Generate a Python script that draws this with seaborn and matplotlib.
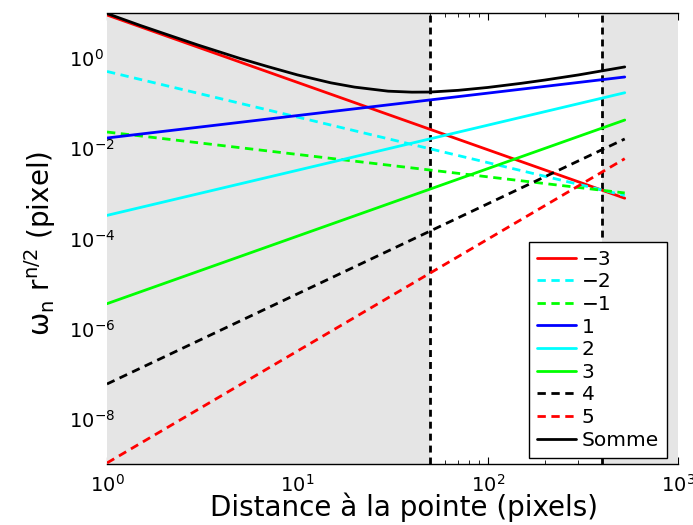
import matplotlib
matplotlib.use("Agg")
import matplotlib.pyplot as plt
import seaborn as sns

# distance range covered by the mode curves (pixels)
r_ends = [1, 525]

# value of each mode at r = 1 and at r = 525
mode_m3 = [8.9, 7.8e-4]
mode_m2 = [0.50, 9.0e-4]
mode_m1 = [0.0228, 1.02e-3]
mode_p1 = [0.0168, 0.377]
mode_p2 = [3.25e-4, 0.169]
mode_p3 = [3.6e-6, 0.042]
mode_p4 = [6.0e-8, 0.016]
mode_p5 = [1.07e-9, 5.85e-3]

# the "Somme" curve, read at a few distances
r_somme = [1, 1.5, 2, 3, 5, 7, 10, 15, 20, 30, 40, 50, 70, 100, 150, 200, 300, 525]
somme = [9.6, 5.2, 3.44, 1.93, 0.97, 0.64, 0.42, 0.28, 0.225, 0.183, 0.174,
         0.175, 0.191, 0.221, 0.273, 0.323, 0.419, 0.63]

mode_labels = ["\u22123", "\u22122", "\u22121", "1", "2", "3", "4", "5"]
mode_values = [mode_m3, mode_m2, mode_m1, mode_p1, mode_p2, mode_p3, mode_p4, mode_p5]
mode_colors = ["#ff0000", "#00ffff", "#00ff00", "#0000ff", "#00ffff", "#00ff00", "#000000", "#ff0000"]
mode_dashed = [False, True, True, False, False, False, True, True]

# window used for the fit (white zone)
fit_window = [50, 400]

sns.set_style("white")
plt.rcParams['font.family'] = ['DejaVu Sans']
plt.rcParams['text.color'] = 'k'
plt.rcParams['axes.labelcolor'] = 'k'
plt.rcParams['xtick.color'] = 'k'
plt.rcParams['ytick.color'] = 'k'

fig = plt.figure(figsize=(6.93, 5.25), dpi=100)
ax = fig.add_axes([107 / 693, 1 - 464.3 / 525, 571 / 693, 451.6 / 525])
ax.set_xscale('log')
ax.set_yscale('log')

dash = (0, (3, 2))
for lab, vals, col, dashed in zip(mode_labels, mode_values, mode_colors, mode_dashed):
    sns.lineplot(x=r_ends, y=vals, color=col, linestyle=dash if dashed else '-',
                 linewidth=2, label=lab, ax=ax, zorder=4)
sns.lineplot(x=r_somme, y=somme, color='k', linewidth=2, label='Somme', ax=ax, zorder=4)

# grey outside the fit window, on top of the x ticks
ax.set_axisbelow(True)
ax.yaxis.set_zorder(6)  # y labels stay visible (no y tick marks drawn)
ax.axvspan(1, fit_window[0], color='#e5e5e5', lw=0, zorder=1)
ax.axvspan(fit_window[1], 1000, color='#e5e5e5', lw=0, zorder=1)
for xv in fit_window:
    ax.axvline(xv, color='k', linestyle=(0, (2.5, 1.8)), linewidth=2, zorder=3)

ax.set_xlim(1, 1000)
ax.set_ylim(1e-9, 1e1)
ax.set_xticks([1, 10, 100, 1000])
ax.set_yticks([1e0, 1e-2, 1e-4, 1e-6, 1e-8])
ax.tick_params(which='both', direction='in', top=True, bottom=True, left=False, right=False,
               labelsize=14)
ax.tick_params(axis='x', pad=7)
ax.tick_params(axis='y', pad=27.5)
ax.tick_params(which='major', length=5)
ax.tick_params(which='minor', length=3)
for t in ax.get_yticklabels():
    t.set_horizontalalignment('left')

for side in ['left', 'right']:
    ax.spines[side].set_visible(False)
for side in ['top', 'bottom']:
    ax.spines[side].set_color('k')
    ax.spines[side].set_linewidth(1)

ax.set_xlabel('Distance à la pointe (pixels)', fontsize=20)
ax.set_ylabel(r'$\mathregular{\omega_n\ r^{n/2}}$ (pixel)', fontsize=20)
ax.xaxis.set_label_coords(0.52, -0.062)
ax.yaxis.set_label_coords(-0.085, 0.49)

handles, labels = ax.get_legend_handles_labels()
leg = ax.legend(handles, labels, loc='lower right', bbox_to_anchor=(0.9807, 0.0146),
                borderaxespad=0, fontsize=14.5, labelspacing=0.18, handlelength=1.9,
                handletextpad=0.3, borderpad=0.4, fancybox=False, framealpha=1)
leg.get_frame().set_edgecolor('k')
leg.get_frame().set_linewidth(1)
leg.set_zorder(7)

plt.savefig('out.png', dpi=100)
